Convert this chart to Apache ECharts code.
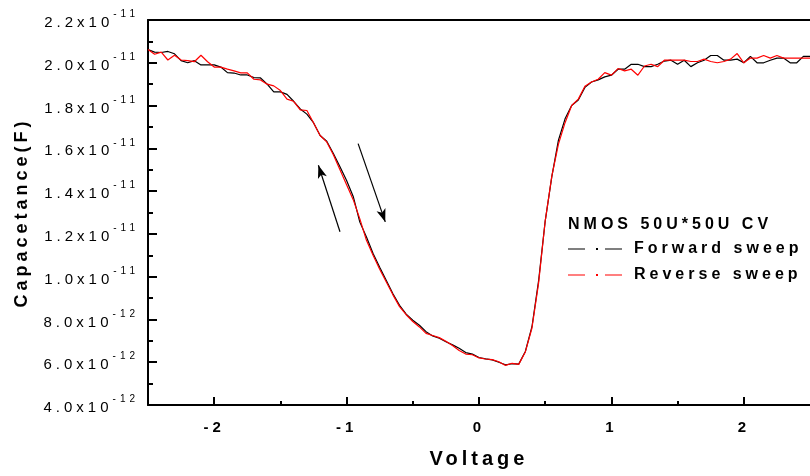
<!DOCTYPE html>
<html>
<head>
<meta charset="utf-8">
<script src="https://cdn.jsdelivr.net/npm/echarts@6/dist/echarts.min.js"></script>
<style>
  html, body { margin: 0; padding: 0; background: #fff; }
  #main { width: 810px; height: 476px; }
</style>
</head>
<body>
<div id="main"></div>
<script>
// the original plot uses widely spaced lettering, do the same on the canvas
['fillText', 'measureText'].forEach(function (name) {
  var orig = CanvasRenderingContext2D.prototype[name];
  CanvasRenderingContext2D.prototype[name] = function () {
    this.letterSpacing = '4px';
    return orig.apply(this, arguments);
  };
});

// gate voltage (V)
var voltage = [
  -2.50, -2.45, -2.40, -2.35, -2.30, -2.25, -2.20, -2.15, -2.10, -2.05,
  -2.00, -1.95, -1.90, -1.85, -1.80, -1.75, -1.70, -1.65, -1.60, -1.55,
  -1.50, -1.45, -1.40, -1.35, -1.30, -1.25, -1.20, -1.15, -1.10, -1.05,
  -1.00, -0.95, -0.90, -0.85, -0.80, -0.75, -0.70, -0.65, -0.60, -0.55,
  -0.50, -0.45, -0.40, -0.35, -0.30, -0.25, -0.20, -0.15, -0.10, -0.05,
  0.00, 0.05, 0.10, 0.15, 0.20, 0.25, 0.30, 0.35, 0.40, 0.45,
  0.50, 0.55, 0.60, 0.65, 0.70, 0.75, 0.80, 0.85, 0.90, 0.95,
  1.00, 1.05, 1.10, 1.15, 1.20, 1.25, 1.30, 1.35, 1.40, 1.45,
  1.50, 1.55, 1.60, 1.65, 1.70, 1.75, 1.80, 1.85, 1.90, 1.95,
  2.00, 2.05, 2.10, 2.15, 2.20, 2.25, 2.30, 2.35, 2.40, 2.45,
  2.50
];

// capacitance in units of 1e-12 F
var forward = [
  20.62, 20.50, 20.48, 20.53, 20.42, 20.10, 20.00, 20.10, 19.90, 19.90,
  19.90, 19.80, 19.54, 19.52, 19.43, 19.43, 19.31, 19.29, 19.00, 18.64,
  18.64, 18.52, 18.20, 17.84, 17.60, 17.20, 16.60, 16.33, 15.76, 15.14,
  14.50, 13.75, 12.55, 11.85, 11.08, 10.44, 9.82, 9.20, 8.66, 8.25,
  7.96, 7.73, 7.43, 7.23, 7.12, 6.96, 6.81, 6.65, 6.45, 6.38,
  6.22, 6.16, 6.11, 6.00, 5.88, 5.93, 5.91, 6.50, 7.66, 9.80,
  12.60, 14.68, 16.38, 17.38, 18.00, 18.26, 18.85, 19.10, 19.20, 19.34,
  19.42, 19.70, 19.70, 19.93, 19.93, 19.82, 19.82, 19.93, 20.08, 20.12,
  19.93, 20.12, 19.82, 20.00, 20.12, 20.34, 20.34, 20.12, 20.12, 20.17,
  20.00, 20.30, 20.00, 20.00, 20.12, 20.22, 20.22, 20.00, 20.00, 20.30,
  20.30
];
var reverse = [
  20.62, 20.40, 20.50, 20.13, 20.35, 20.13, 20.10, 20.05, 20.35, 20.05,
  19.80, 19.80, 19.70, 19.62, 19.53, 19.53, 19.23, 19.20, 19.00, 18.92,
  18.70, 18.30, 18.20, 17.80, 17.77, 17.20, 16.60, 16.30, 15.70, 15.00,
  14.30, 13.60, 12.70, 11.70, 11.00, 10.35, 9.75, 9.15, 8.60, 8.22,
  7.90, 7.65, 7.35, 7.25, 7.15, 6.98, 6.78, 6.55, 6.38, 6.35,
  6.20, 6.15, 6.12, 6.02, 5.85, 5.95, 5.90, 6.48, 7.60, 9.70,
  12.60, 14.70, 16.20, 17.20, 18.00, 18.30, 18.90, 19.10, 19.23, 19.54,
  19.42, 19.73, 19.62, 19.70, 19.42, 19.85, 19.93, 19.82, 20.12, 20.12,
  20.12, 20.12, 20.06, 20.06, 20.17, 20.06, 20.00, 20.06, 20.17, 20.43,
  20.00, 20.22, 20.22, 20.34, 20.22, 20.34, 20.22, 20.22, 20.22, 20.22,
  20.22
];

var xMajorTicks = [-2, -1, 0, 1, 2];
var xMinorTicks = [-1.5, -0.5, 0.5, 1.5];

// sweep direction arrows: [start, tip] as [V, C(1e-12 F)]
var arrowUp = [[-1.05, 12.1], [-1.213, 15.21]];
var arrowDown = [[-0.913, 16.22], [-0.708, 12.56]];

function pairs(xs, ys) {
  return xs.map(function (x, i) { return [x, ys[i]]; });
}

function yLabel(v) {
  if (v >= 10) return '{m|' + (v / 10).toFixed(1) + 'x10}{e|-11}';
  return '{m|' + v.toFixed(1) + 'x10}{e|-12}';
}

var font = '"Liberation Sans", Arial, sans-serif';
var chart = echarts.init(document.getElementById('main'));
chart.setOption({
  animation: false,
  textStyle: { fontFamily: font },
  title: {
    text: 'NMOS 50U*50U CV',
    left: 568,
    top: 215,
    padding: 0,
    textStyle: { fontFamily: font, fontSize: 16, fontWeight: 'bold', color: '#000' }
  },
  legend: {
    orient: 'vertical',
    left: 568,
    top: 239,
    padding: 0,
    itemGap: 6,
    itemWidth: 54,
    itemHeight: 2,
    icon: 'path://M0,0.5h17v1h-17z M28,0h2v2h-2z M37,0.5h17v1h-17z',
    textStyle: { fontFamily: font, fontSize: 16, fontWeight: 'bold', color: '#000', padding: [0, 0, 0, 7] },
    data: ['Forward sweep', 'Reverse sweep']
  },
  grid: {
    left: 148,
    right: -5,
    top: 20,
    bottom: 67
  },
  xAxis: [
    {
      type: 'value',
      min: -2.5,
      max: 2.5,
      position: 'bottom',
      name: 'Voltage',
      nameLocation: 'middle',
      nameGap: 42,
      nameTextStyle: { fontFamily: font, fontSize: 20, fontWeight: 'bold', color: '#000' },
      axisLine: { onZero: false, lineStyle: { color: '#000', width: 2 } },
      axisTick: { inside: true, length: 8, customValues: xMajorTicks, lineStyle: { color: '#000', width: 2 } },
      axisLabel: { customValues: xMajorTicks, margin: 13, fontSize: 15, fontWeight: 'bold', color: '#000' },
      splitLine: { show: false }
    },
    {
      type: 'value',
      min: -2.5,
      max: 2.5,
      position: 'bottom',
      axisLine: { show: false, onZero: false },
      axisTick: { inside: true, length: 4, customValues: xMinorTicks, lineStyle: { color: '#000', width: 2 } },
      axisLabel: { show: false },
      splitLine: { show: false }
    },
    {
      // top frame line
      type: 'value',
      min: -2.5,
      max: 2.5,
      position: 'top',
      axisLine: { onZero: false, lineStyle: { color: '#000', width: 2 } },
      axisTick: { show: false },
      axisLabel: { show: false },
      splitLine: { show: false }
    }
  ],
  yAxis: {
    type: 'value',
    position: 'left',
    min: 4,
    max: 22,
    interval: 2,
    name: 'Capacetance(F)',
    nameLocation: 'middle',
    nameGap: 115,
    nameTextStyle: { fontFamily: font, fontSize: 18, fontWeight: 'bold', color: '#000' },
    axisLine: { show: true, onZero: false, lineStyle: { color: '#000', width: 2 } },
    axisTick: { show: true, inside: true, length: 9, lineStyle: { color: '#000', width: 2 } },
    minorTick: { show: true, splitNumber: 2, length: 5, lineStyle: { color: '#000', width: 2 } },
    axisLabel: {
      margin: 9,
      formatter: yLabel,
      rich: {
        m: { fontFamily: font, fontSize: 15, color: '#000', lineHeight: 16, verticalAlign: 'bottom' },
        e: { fontFamily: font, fontSize: 10, color: '#000', verticalAlign: 'top', padding: [0, 0, 11, 0] }
      }
    },
    splitLine: { show: false }
  },
  series: [
    {
      name: 'Forward sweep',
      type: 'line',
      data: pairs(voltage, forward),
      showSymbol: false,
      color: '#000',
      lineStyle: { color: '#000', width: 1.2 },
      markLine: {
        silent: true,
        symbol: ['none', 'arrow'],
        symbolSize: [7, 13],
        label: { show: false },
        lineStyle: { color: '#000', width: 1.2, type: 'solid' },
        data: [
          [{ coord: arrowUp[0] }, { coord: arrowUp[1] }],
          [{ coord: arrowDown[0] }, { coord: arrowDown[1] }]
        ]
      }
    },
    {
      name: 'Reverse sweep',
      type: 'line',
      data: pairs(voltage, reverse),
      showSymbol: false,
      color: '#ff0000',
      lineStyle: { color: '#ff0000', width: 1.2 }
    }
  ]
});
</script>
</body>
</html>
